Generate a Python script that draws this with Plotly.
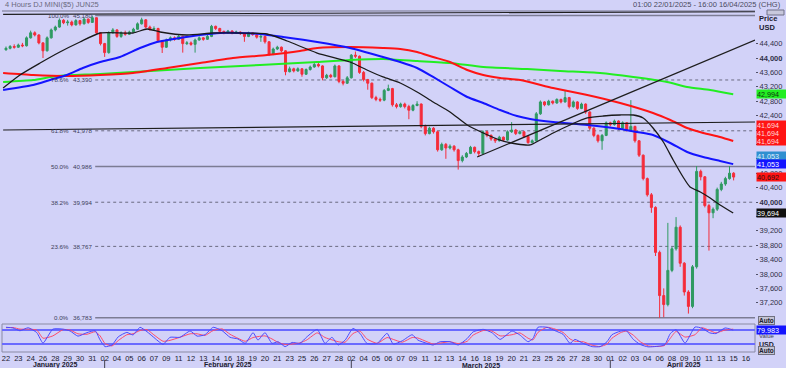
import plotly.graph_objects as go

# ---------------- data ----------------
title_left = "4 Hours DJ MINI($5) JUN25"
title_right = "01:00 22/01/2025 - 16:00 16/04/2025 (CHG)"

day_labels = ["22", "23", "24", "26", "28", "29", "30", "31",
              "02", "04", "05", "06", "07", "09", "11", "12", "13", "14", "16", "18",
              "19", "20", "21", "23", "25", "26", "27", "28",
              "02", "04", "05", "06", "07", "09", "11", "12", "13", "14", "16", "18",
              "19", "20", "21", "23", "25", "26", "27", "28", "30",
              "01", "02", "03", "04", "06", "08", "09", "10", "11", "13", "15", "16"]
month_names = ["January 2025", "February 2025", "March 2025", "April 2025"]
month_first_label = [0, 8, 28, 49]
bars_per_label = 3

first_open = 44230
closes = [
    44270, 44320, 44300, 44360, 44340, 44560, 44700, 44640, 44420, 44200,
    44560, 44780, 44860, 45050, 44980, 45000, 44920, 45040, 44950, 45080,
    44990, 45120, 44700, 44400, 44150, 44700, 44780, 44600, 44700, 44660,
    44720, 44800, 44950, 45060, 44860, 44800, 44820, 44480, 44300, 44500,
    44560, 44520, 44600, 44400, 44420, 44380, 44500, 44560, 44520, 44600,
    44880, 44820, 44740, 44700, 44750, 44700, 44720, 44680, 44600, 44700,
    44650, 44580, 44600, 44450, 44100, 44250, 44300, 44200, 43620, 43700,
    43640, 43700, 43550, 43680, 43750, 43820, 43780, 43450, 43520, 43480,
    43780, 43350, 43300, 43450, 44080, 44050, 43600, 43400, 43300, 42900,
    42850, 42830, 43100, 43150, 42700, 42650, 42720, 42650, 42550, 42680,
    42720, 42100, 41900, 42050, 41950, 41450, 41600, 41500, 41550, 41450,
    41150, 41250, 41350, 41520, 41400, 41350, 41950, 41850, 41750, 41700,
    41800, 41720, 41950, 42000, 41900, 41950, 41820, 41650, 41700, 42450,
    42780, 42700, 42800, 42750, 42850, 42780, 42900, 42650, 42780, 42600,
    42720, 42500, 42050, 41850, 41700, 41850, 42200, 42150, 42250, 42050,
    42200, 42000, 42100, 41700, 41300, 40650, 40200, 39850, 38600, 37400,
    37150, 38100, 38700, 39300, 38300, 37500, 37100, 38200, 40850, 40700,
    39900, 39700, 39800, 40350, 40500, 40650, 40800, 40692]
highs = [
    44320, 44360, 44380, 44400, 44420, 44600, 44760, 44740, 44660, 44440,
    44600, 44820, 44900, 45100, 45080, 45060, 45040, 45080, 45060, 45120,
    45100, 45180, 45130, 44720, 44420, 44740, 44830, 44800, 44740, 44760,
    44760, 44840, 44990, 45120, 45080, 44900, 44880, 44840, 44500, 44540,
    44600, 44600, 44640, 44620, 44470, 44460, 44540, 44600, 44580, 44640,
    44920, 44900, 44840, 44760, 44780, 44770, 44760, 44740, 44700, 44730,
    44720, 44670, 44640, 44620, 44470, 44290, 44340, 44320, 44220, 43760,
    43730, 43740, 43720, 43710, 43790, 43860, 43900, 43800, 43560, 43560,
    43820, 43800, 43380, 43500, 44110, 44180, 44070, 43640, 43420, 43320,
    42950, 42900, 43140, 43260, 43170, 42750, 42760, 42760, 42700, 42720,
    42800, 42740, 42150, 42090, 42080, 41980, 41650, 41640, 41600, 41580,
    41480, 41300, 41390, 41560, 41540, 41430, 41990, 41980, 41880, 41780,
    41840, 41820, 41990, 42220, 42030, 41990, 41970, 41850, 41740, 42500,
    42820, 42800, 42840, 42820, 42880, 42870, 43100, 42920, 42820, 42800,
    42760, 42740, 42520, 42080, 41880, 41890, 42240, 42230, 42290, 42270,
    42240, 42220, 42830, 42120, 41720, 41320, 40680, 40250, 39880, 38650,
    37600, 39420, 38760, 39580, 39350, 38330, 37550, 38250, 41000, 40900,
    40720, 39950, 39850, 40400, 40560, 40700, 41000, 40830]
lows = [
    44200, 44240, 44260, 44280, 44300, 44320, 44540, 44600, 44380, 44000,
    44180, 44540, 44740, 44840, 44940, 44900, 44880, 44900, 44900, 44930,
    44950, 44980, 44650, 44350, 44030, 44120, 44680, 44560, 44560, 44620,
    44640, 44700, 44780, 44930, 44820, 44760, 44760, 44440, 44140, 44280,
    44460, 44480, 44500, 44150, 44360, 44340, 44150, 44480, 44480, 44500,
    44580, 44780, 44700, 44660, 44680, 44660, 44680, 44640, 44450, 44580,
    44620, 44540, 44450, 44400, 44060, 44080, 44220, 44160, 43520, 43600,
    43600, 43620, 43480, 43530, 43650, 43730, 43740, 43380, 43420, 43440,
    43460, 43300, 43240, 43280, 43430, 44000, 43560, 43350, 43120, 42860,
    42800, 42780, 42800, 43080, 42650, 42600, 42620, 42600, 42300, 42520,
    42660, 42050, 41850, 41880, 41900, 41400, 41420, 41200, 41460, 41400,
    40900, 41100, 41220, 41330, 41350, 41250, 41330, 41800, 41700, 41640,
    41680, 41680, 41700, 41920, 41860, 41880, 41780, 41620, 41640, 41680,
    42420, 42660, 42680, 42710, 42730, 42740, 42760, 42600, 42620, 42560,
    42580, 42450, 42000, 41800, 41650, 41450, 41830, 42100, 42120, 42000,
    42030, 41960, 41980, 41650, 41250, 40600, 40150, 39700, 38500, 36783,
    36800, 37100, 38050, 38650, 38200, 37400, 36900, 37050, 38150, 40600,
    39850, 38650, 39550, 39750, 40300, 40450, 40620, 40600]

# moving averages, read at sample bars
ma_black_x = [-0.7, 3.4, 8.3, 13.1, 18.0, 22.9, 30.9, 34.3, 37.5, 44.0, 50.4, 56.9, 63.5, 68.4,
              75.7, 83.7, 87.8, 91.7, 95.9, 100.0, 103.9, 108.0, 112.2, 116.1, 120.2, 124.3,
              127.5, 129.9, 133.1, 137.2, 141.4, 145.3, 149.4, 152.6, 155.0, 157.4, 159.9,
              162.3, 164.7, 166.4, 168.9, 171.3, 173.7, 176.9]
ma_black_y = [43167, 43528, 43861, 44167, 44445, 44695, 44695, 44806, 44723, 44639, 44695, 44695,
              44667, 44473, 44139, 43889, 43667, 43473, 43306, 43056, 42778, 42500, 42139, 41917,
              41722, 41611, 41584, 41722, 41917, 42139, 42334, 42389, 42417, 42417, 42334, 42056,
              41667, 41167, 40695, 40417, 40278, 40111, 39917, 39694]
ma_blue_x = [-0.7, 6.6, 10.7, 14.8, 18.7, 22.9, 27.7, 32.6, 36.7, 42.3, 47.2, 52.1, 56.9, 61.8,
             67.4, 75.7, 83.7, 91.7, 95.9, 100.0, 103.9, 108.0, 112.2, 116.1, 120.2, 124.3,
             127.5, 133.1, 141.4, 149.4, 153.5, 157.4, 161.6, 165.7, 169.6, 173.7, 176.9]
ma_blue_y = [43111, 43250, 43389, 43528, 43723, 43889, 44028, 44278, 44445, 44556, 44639, 44695,
             44695, 44667, 44584, 44445, 44278, 44028, 43889, 43723, 43473, 43195, 42917, 42750,
             42556, 42389, 42306, 42222, 42139, 42028, 41945, 41861, 41639, 41389, 41250, 41139,
             41053]
ma_red_x = [-0.7, 6.6, 14.8, 22.9, 30.9, 39.2, 47.2, 55.2, 63.5, 71.5, 75.7, 83.7, 91.7, 95.9,
            100.0, 103.9, 108.0, 112.2, 116.1, 120.2, 125.1, 133.1, 141.4, 149.4, 157.4, 161.6,
            165.7, 169.6, 173.7, 176.9]
ma_red_y = [43584, 43528, 43500, 43528, 43584, 43723, 43861, 44000, 44084, 44195, 44278, 44306,
            44278, 44250, 44167, 44028, 43889, 43667, 43528, 43445, 43389, 43167, 42972, 42750,
            42472, 42278, 42056, 41917, 41806, 41694]
ma_green_x = [-0.7, 6.6, 12.4, 22.9, 39.2, 47.2, 61.8, 75.7, 83.7, 91.7, 100.0, 108.0, 116.1,
              126.8, 134.8, 144.5, 152.6, 160.8, 165.7, 171.3, 176.9]
ma_green_y = [43334, 43389, 43500, 43556, 43667, 43723, 43806, 43889, 43945, 43973, 43917, 43861,
              43750, 43695, 43639, 43584, 43473, 43334, 43195, 43111, 42994]

# trend lines (bar, price) pairs
trend_lines = [
    ((-0.7, 45210), (182.2, 45290)),
    ((-0.7, 42000), (182.2, 42222)),
    ((114.6, 41250), (182.2, 44500)),
]

# fibonacci retracement
fib_pct = ["100.0%", "78.6%", "61.8%", "50.0%", "38.2%", "23.6%", "0.0%"]
fib_val = [45180, 43390, 41978, 40986, 39994, 38767, 36783]
fib_dash = ["solid", "dot", "dot", "solid", "dot", "dot", "solid"]
fib_start_bar = 21.7

# stochastic oscillator samples
stoch_x = [0.0, 1.7, 3.4, 5.4, 7.5, 9.0, 11.4, 13.9, 15.6, 17.5, 19.7, 21.7, 22.9, 24.1, 25.8,
           27.3, 29.4, 30.9, 32.6, 34.3, 35.8, 38.2, 39.9, 42.3, 44.8, 46.5, 48.4, 50.4, 52.6,
           54.5, 56.4, 58.2, 60.1, 61.3, 63.0, 64.7, 66.2, 67.9, 69.6, 71.5, 73.2, 75.7, 77.6,
           79.3, 80.8, 82.5, 84.4, 86.1, 87.8, 90.3, 92.7, 94.2, 96.4, 98.8, 100.2, 102.4, 103.9,
           105.6, 108.0, 110.0, 112.2, 113.6, 116.1, 118.2, 120.2, 123.1, 125.0, 127.0, 128.2,
           129.4, 131.6, 133.6, 135.5, 137.2, 138.4, 140.4, 142.6, 144.5, 146.2, 147.4, 149.4,
           150.9, 152.6, 154.3, 156.2, 159.2, 160.3, 161.6, 163.0, 165.2, 167.6, 169.3, 171.2,
           172.7, 174.9, 176.9]
stoch_k = [92, 89, 77, 90, 69, 24, 84, 84, 76, 54, 69, 77, 37, 9, 16, 51, 70, 59, 92, 73, 51, 19,
           49, 49, 76, 54, 60, 92, 77, 49, 42, 23, 69, 37, 69, 23, 30, 9, 27, 23, 51, 83, 23, 49,
           16, 37, 87, 66, 23, 23, 66, 20, 34, 60, 37, 23, 16, 30, 30, 16, 44, 72, 83, 69, 40, 76,
           59, 30, 44, 92, 92, 77, 62, 23, 40, 23, 9, 9, 30, 60, 75, 77, 40, 18, 8, 12, 18, 65, 82,
           24, 93, 88, 68, 65, 89, 80]
stoch_d = [90, 91, 84, 84, 80, 45, 55, 82, 80, 64, 62, 73, 55, 22, 12, 35, 60, 64, 78, 82, 62, 32,
           36, 49, 64, 64, 57, 78, 85, 62, 45, 32, 48, 52, 55, 42, 27, 18, 20, 25, 38, 68, 48, 38,
           30, 28, 65, 76, 42, 23, 48, 40, 28, 48, 46, 30, 20, 24, 30, 22, 32, 58, 78, 76, 55, 60,
           68, 45, 38, 70, 92, 84, 70, 42, 32, 30, 15, 9, 20, 45, 68, 76, 58, 30, 12, 10, 15, 45,
           74, 50, 60, 90, 78, 68, 80, 84]
stoch_levels = [80, 20]
stoch_last = "79.983"

price_ticks = [37200, 37600, 38000, 38400, 38800, 39200, 39600, 40000, 40400, 40800, 41200,
               41600, 42000, 42400, 42800, 43200, 43600, 44000, 44400]
bold_ticks = [40000, 44000]
covered_ticks = [39600, 41200, 41600, 42000]   # hidden behind value boxes in the reference

# ---------------- layout helpers ----------------
BG = "#d2d2f8"
FONT = "Liberation Sans"
TOP, BOT = 11, 352
H = BOT - TOP


def py(ypix):
    return (BOT - ypix) / H


opens = [first_open] + closes[:-1]
hi = [max(h, o, c) for h, o, c in zip(highs, opens, closes)]
lo = [min(l, o, c) for l, o, c in zip(lows, opens, closes)]
bars = list(range(len(closes)))

fig = go.Figure()

fig.add_trace(go.Candlestick(
    x=bars, open=opens, high=hi, low=lo, close=closes,
    increasing=dict(line=dict(color="#2f9a62", width=1), fillcolor="#2f9a62"),
    decreasing=dict(line=dict(color="#f52c3a", width=1), fillcolor="#f52c3a"),
    whiskerwidth=0, showlegend=False, hoverinfo="skip", xaxis="x", yaxis="y"))

for xs, ys, col, w in [(ma_green_x, ma_green_y, "#22ee22", 2),
                       (ma_red_x, ma_red_y, "#ff1414", 2),
                       (ma_blue_x, ma_blue_y, "#1414ff", 2),
                       (ma_black_x, ma_black_y, "#1a1a1a", 1.3)]:
    fig.add_trace(go.Scatter(x=xs, y=ys, mode="lines",
                             line=dict(color=col, width=w, shape="spline", smoothing=0.6),
                             showlegend=False, hoverinfo="skip", xaxis="x", yaxis="y"))

fig.add_trace(go.Scatter(x=stoch_x, y=stoch_d, mode="lines",
                         line=dict(color="#ff4a6a", width=1, shape="spline", smoothing=0.5),
                         showlegend=False, hoverinfo="skip", xaxis="x", yaxis="y2"))
fig.add_trace(go.Scatter(x=stoch_x, y=stoch_k, mode="lines",
                         line=dict(color="#4a4aff", width=1, shape="spline", smoothing=0.5),
                         showlegend=False, hoverinfo="skip", xaxis="x", yaxis="y2"))

shapes = []
annotations = []

# fibonacci levels
for pct, val, dash in zip(fib_pct, fib_val, fib_dash):
    shapes.append(dict(type="line", xref="x", yref="y", x0=fib_start_bar, x1=182.2, y0=val, y1=val,
                       line=dict(color="#7c7c94" if dash == "solid" else "#6a6a80",
                                 width=1.6 if dash == "solid" else 1, dash=dash), layer="below"))
    annotations.append(dict(x=15.7, y=val, xref="x", yref="y", text=pct, showarrow=False,
                            xanchor="right", yanchor="middle",
                            font=dict(family=FONT, size=6.2, color="#3c3c58")))
    annotations.append(dict(x=21.3, y=val, xref="x", yref="y", text=f"{val:,}", showarrow=False,
                            xanchor="right", yanchor="middle",
                            font=dict(family=FONT, size=6.2, color="#3c3c58")))

# trend lines
for (x0, y0), (x1, y1) in trend_lines:
    shapes.append(dict(type="line", xref="x", yref="y", x0=x0, y0=y0, x1=x1, y1=y1,
                       line=dict(color="#1e1e1e", width=1.2), layer="above"))

# top frame line
shapes.append(dict(type="line", xref="paper", yref="paper", x0=0, x1=1, y0=1, y1=1,
                   line=dict(color="#707088", width=1)))

# stochastic panel frame and levels
shapes.append(dict(type="rect", xref="paper", yref="paper", x0=0.0, x1=1, y0=0, y1=py(324),
                   line=dict(color="#8a8aa4", width=1), layer="below"))
for lv in stoch_levels:
    shapes.append(dict(type="line", xref="paper", yref="y2", x0=0, x1=1, y0=lv, y1=lv,
                       line=dict(color="#6a6aff", width=2), layer="below"))

# month separators and labels
month_bars = [i * bars_per_label for i in month_first_label]
for mb in month_bars[1:]:
    shapes.append(dict(type="line", xref="x", yref="paper", x0=mb, x1=mb,
                       y0=py(360), y1=py(368), line=dict(color="#404050", width=1)))
ends = month_first_label[1:] + [len(day_labels)]
for name, s, e in zip(month_names, month_first_label, ends):
    cx = (s + e - 1) / 2 * bars_per_label + 1.5
    annotations.append(dict(x=cx, y=py(365), xref="x", yref="paper", text=f"<b>{name}</b>",
                            showarrow=False, xanchor="center", yanchor="middle",
                            font=dict(family=FONT, size=7, color="#202030")))

# titles
annotations.append(dict(x=0.0015, y=py(4), xref="paper", yref="paper", text=title_left,
                        showarrow=False, xanchor="left", yanchor="middle",
                        font=dict(family=FONT, size=7.5, color="#6a6a80")))
annotations.append(dict(x=(783 - 2) / 753, y=py(4), xref="paper", yref="paper", text=title_right,
                        showarrow=False, xanchor="right", yanchor="middle",
                        font=dict(family=FONT, size=7.5, color="#4a4a60")))


# right side texts
def rtext(ypix, txt, bold=False, size=7.5, color="#202030"):
    annotations.append(dict(x=1, y=py(ypix), xref="paper", yref="paper",
                            text=f"<b>{txt}</b>" if bold else txt, showarrow=False,
                            xanchor="left", yanchor="middle", xshift=2,
                            font=dict(family=FONT, size=size, color=color)))


rtext(19, "Price", bold=True)
rtext(28, "USD", bold=True)
rtext(336, "Value", size=6, color="#404050")
rtext(344.5, "USD", bold=True, size=7)


def box(ypix, txt):
    annotations.append(dict(x=1, y=py(ypix), xref="paper", yref="paper", text=f"<b>{txt}</b>",
                            showarrow=False, xanchor="left", yanchor="middle", xshift=3,
                            bgcolor="#c4c4d4", bordercolor="#707080", borderwidth=1, borderpad=0,
                            font=dict(family=FONT, size=6.5, color="#202030")))


box(320, "Auto")
box(350, "Auto")
shapes.append(dict(type="rect", xref="paper", yref="paper", x0=(767 - 2) / 753, x1=(784 - 2) / 753,
                   y0=py(15), y1=py(10), line=dict(color="#707088", width=1), fillcolor="#c8c8dc"))


# value boxes
def vbox(y, yref, txt, bg, fg, yshift=0):
    annotations.append(dict(x=1, y=y, xref="paper", yref=yref, text=txt, showarrow=False,
                            xanchor="left", yanchor="middle", xshift=1, yshift=yshift,
                            bgcolor=bg, borderpad=0, width=30, height=8, align="left",
                            font=dict(family=FONT, size=7.2, color=fg)))


vbox(ma_green_y[-1], "y", f"{ma_green_y[-1]:,}", "#22ee22", "#103010")
vbox(ma_red_y[-1], "y", f"{ma_red_y[-1]:,}", "#ff1414", "#ffd8d8", 16)
vbox(ma_red_y[-1], "y", f"{ma_red_y[-1]:,}", "#ff1414", "#ffd8d8", 8)
vbox(ma_red_y[-1], "y", f"{ma_red_y[-1]:,}", "#ff1414", "#ffd8d8", 0)
vbox(ma_blue_y[-1], "y", f"{ma_blue_y[-1]:,}", "#2f8fd0", "#e0f0ff", 8)
vbox(ma_blue_y[-1], "y", f"{ma_blue_y[-1]:,}", "#1414ff", "#ffffff", 0)
vbox(closes[-1], "y", f"{closes[-1]:,}", "#ff1414", "#301010")
vbox(ma_black_y[-1], "y", f"{ma_black_y[-1]:,}", "#101010", "#ffffff")
vbox(80, "y2", stoch_last, "#1414ff", "#ffffff")


def tick_label(v):
    if v in covered_ticks:
        return ""
    return f"<b>{v:,}</b>" if v in bold_ticks else f"{v:,}"


tick_text = [tick_label(v) for v in price_ticks]

fig.update_layout(
    width=786, height=368,
    margin=dict(l=2, r=31, t=TOP, b=368 - BOT),
    paper_bgcolor=BG, plot_bgcolor=BG,
    showlegend=False,
    shapes=shapes, annotations=annotations,
    xaxis=dict(range=[-0.97, 182.2], anchor="y2", tickmode="array",
               tickvals=[i * bars_per_label for i in range(len(day_labels))], ticktext=day_labels,
               tickfont=dict(family=FONT, size=7.5, color="#202030"), ticks="", showgrid=False,
               zeroline=False, showline=False, rangeslider=dict(visible=False), fixedrange=True,
               automargin=False),
    yaxis=dict(domain=[py(320), 1], range=[36722, 45306], side="right", anchor="x",
               tickmode="array", tickvals=price_ticks, ticktext=tick_text,
               tickfont=dict(family=FONT, size=7.5, color="#303048"), ticks="outside", ticklen=2,
               tickcolor="#505068", showgrid=False, zeroline=False, showline=False,
               automargin=False),
    yaxis2=dict(domain=[0, py(324)], range=[-14, 106], anchor="x", showticklabels=False,
                showgrid=False, zeroline=False, showline=False, automargin=False),
)

fig.write_html("out.html", config={"displayModeBar": False},
               post_script="document.body.style.margin='0';document.body.style.overflow='hidden';")
